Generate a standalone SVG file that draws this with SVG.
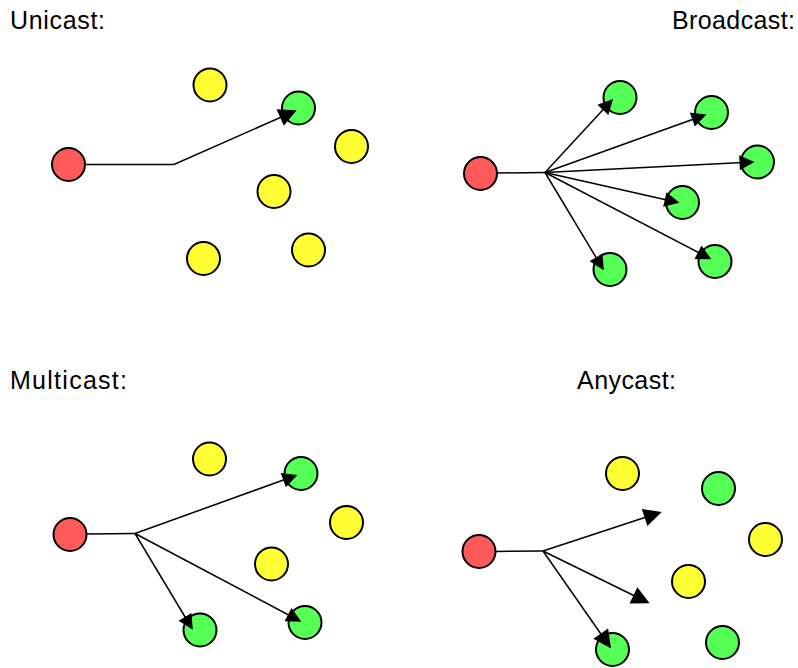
<svg xmlns="http://www.w3.org/2000/svg" width="798" height="668" viewBox="0 0 798 668">
<defs>
<style>
.t{font-family:"Liberation Sans",Arial,sans-serif;font-size:25px;fill:#000}
.n{stroke:#000;stroke-width:2}
.r{fill:#ff5a5a}
.g{fill:#55ff55}
.y{fill:#ffff33}
.e{fill:none;stroke:#000;stroke-width:1.5}
.a{marker-end:url(#ah)}
.A{marker-end:url(#ahL)}
</style>
<marker id="ah" viewBox="0 0 10 10" refX="9" refY="5" markerUnits="userSpaceOnUse" markerWidth="18" markerHeight="15" orient="auto"><path d="M0,0 L10,5 L0,10 z" fill="#000"/></marker>
<marker id="ahL" viewBox="0 0 10 10" refX="9" refY="5" markerUnits="userSpaceOnUse" markerWidth="23" markerHeight="18" orient="auto"><path d="M0,0 L10,5 L0,10 z" fill="#000"/></marker>
</defs>
<rect width="798" height="668" fill="#fff"/>
<text class="t" x="10" y="29" textLength="95">Unicast:</text>
<text class="t" x="672" y="29" textLength="123">Broadcast:</text>
<text class="t" x="10" y="389" textLength="117">Multicast:</text>
<text class="t" x="577" y="389" textLength="99">Anycast:</text>
<g id="unicast-src"><circle class="n r" cx="68.5" cy="164.5" r="16.5"/></g>
<g id="unicast-y1"><circle class="n y" cx="210" cy="85" r="16.5"/></g>
<g id="unicast-dst"><circle class="n g" cx="298.5" cy="108" r="16.5"/></g>
<g id="unicast-y2"><circle class="n y" cx="351.5" cy="146.5" r="16.5"/></g>
<g id="unicast-y3"><circle class="n y" cx="274" cy="191.5" r="16.5"/></g>
<g id="unicast-y4"><circle class="n y" cx="203.5" cy="258.5" r="16.5"/></g>
<g id="unicast-y5"><circle class="n y" cx="308.5" cy="250" r="16.5"/></g>
<g id="broadcast-src"><circle class="n r" cx="480.5" cy="173.5" r="16.5"/></g>
<g id="broadcast-g1"><circle class="n g" cx="620" cy="97.5" r="16.5"/></g>
<g id="broadcast-g2"><circle class="n g" cx="711.5" cy="112.5" r="16.5"/></g>
<g id="broadcast-g3"><circle class="n g" cx="757.5" cy="162" r="16.5"/></g>
<g id="broadcast-g4"><circle class="n g" cx="682.5" cy="202.5" r="16.5"/></g>
<g id="broadcast-g5"><circle class="n g" cx="715" cy="261.5" r="16.5"/></g>
<g id="broadcast-g6"><circle class="n g" cx="610" cy="269.5" r="16.5"/></g>
<g id="multicast-src"><circle class="n r" cx="70" cy="534.5" r="16.5"/></g>
<g id="multicast-y1"><circle class="n y" cx="209.5" cy="459" r="16.5"/></g>
<g id="multicast-g1"><circle class="n g" cx="301" cy="473.5" r="16.5"/></g>
<g id="multicast-y2"><circle class="n y" cx="346.5" cy="522.5" r="16.5"/></g>
<g id="multicast-y3"><circle class="n y" cx="271.5" cy="564" r="16.5"/></g>
<g id="multicast-g2"><circle class="n g" cx="200" cy="630" r="16.5"/></g>
<g id="multicast-g3"><circle class="n g" cx="305" cy="622.5" r="16.5"/></g>
<g id="anycast-src"><circle class="n r" cx="479" cy="551.5" r="16.5"/></g>
<g id="anycast-y1"><circle class="n y" cx="622.5" cy="473.5" r="16.5"/></g>
<g id="anycast-g1"><circle class="n g" cx="718.5" cy="488.5" r="16.5"/></g>
<g id="anycast-y2"><circle class="n y" cx="765.5" cy="539.5" r="16.5"/></g>
<g id="anycast-y3"><circle class="n y" cx="688.5" cy="581.5" r="16.5"/></g>
<g id="anycast-g2"><circle class="n g" cx="722.5" cy="642.5" r="16.5"/></g>
<g id="anycast-g3"><circle class="n g" cx="612.5" cy="649.5" r="16.5"/></g>
<g id="connectors">
<path class="e A" d="M85,164.5 L174,164.5 L295,111"/>
<path class="e" d="M497,173 L545,172.5"/>
<path class="e a" d="M545,172.5 L612,100"/>
<path class="e a" d="M545,172.5 L705,115"/>
<path class="e a" d="M545,172.5 L753,162"/>
<path class="e a" d="M545,172.5 L678,202.5"/>
<path class="e a" d="M545,172.5 L710,258.5"/>
<path class="e a" d="M545,172.5 L603,269"/>
<path class="e" d="M87,534 L135,533.5"/>
<path class="e a" d="M135,533.5 L296,475.5"/>
<path class="e a" d="M135,533.5 L192,628.5"/>
<path class="e a" d="M135,533.5 L300,621"/>
<path class="e" d="M496,551.5 L543,551"/>
<path class="e A" d="M543,551 L660,512.5"/>
<path class="e A" d="M543,551 L648,602.5"/>
<path class="e A" d="M543,551 L610,647"/>
</g>
</svg>
